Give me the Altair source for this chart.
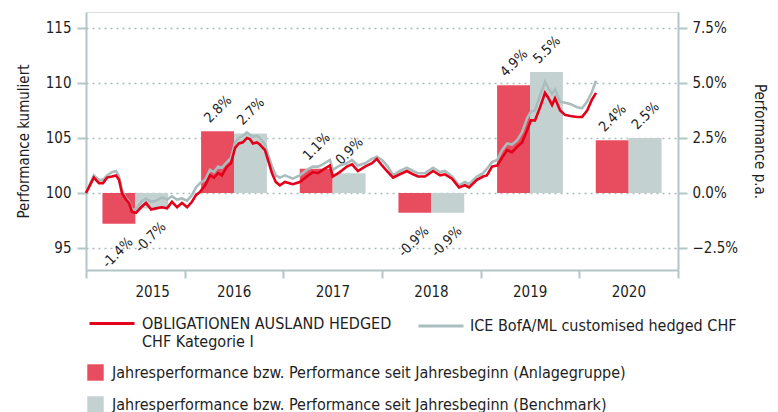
import altair as alt
import pandas as pd

# ---------------- data ----------------
years = [2015, 2016, 2017, 2018, 2019, 2020]
fund_bar = [-1.4, 2.8, 1.1, -0.9, 4.9, 2.4]      # % p.a. (Anlagegruppe)
bench_bar = [-0.7, 2.7, 0.9, -0.9, 5.5, 2.5]     # % p.a. (Benchmark)

dates = [
    "2015-01-01", "2015-01-30", "2015-02-18", "2015-03-05", "2015-03-20", "2015-04-07",
    "2015-04-22", "2015-05-03", "2015-05-14", "2015-05-29", "2015-06-09", "2015-06-20",
    "2015-07-05", "2015-07-24", "2015-08-11", "2015-08-30", "2015-09-17", "2015-10-09",
    "2015-10-28", "2015-11-15", "2015-12-04", "2015-12-22",
    "2016-01-10", "2016-01-28", "2016-02-12", "2016-02-27", "2016-03-17", "2016-04-04",
    "2016-04-19", "2016-05-04", "2016-05-18", "2016-06-06", "2016-06-21", "2016-07-06",
    "2016-07-20", "2016-08-04", "2016-08-19", "2016-08-30", "2016-09-10", "2016-09-25",
    "2016-10-06", "2016-10-25", "2016-11-05", "2016-11-20", "2016-12-04", "2016-12-19",
    "2017-01-07", "2017-02-05", "2017-03-03", "2017-03-29", "2017-04-20", "2017-05-09",
    "2017-05-27", "2017-06-22", "2017-07-03", "2017-07-29", "2017-08-24", "2017-09-12",
    "2017-10-04", "2017-10-30", "2017-11-25", "2017-12-13",
    "2018-01-01", "2018-01-23", "2018-02-11", "2018-03-08", "2018-04-03", "2018-04-26",
    "2018-05-14", "2018-06-09", "2018-07-09", "2018-08-04", "2018-08-22", "2018-09-17",
    "2018-10-13", "2018-11-04", "2018-11-19", "2018-12-18",
    "2019-01-10", "2019-01-24", "2019-02-12", "2019-03-03", "2019-03-21", "2019-04-09",
    "2019-04-27", "2019-05-16", "2019-06-03", "2019-06-22", "2019-07-06", "2019-07-21",
    "2019-08-09", "2019-08-27", "2019-09-07", "2019-09-22", "2019-10-03", "2019-10-22",
    "2019-11-09", "2019-11-28", "2019-12-24",
    "2020-01-11", "2020-01-30", "2020-02-17", "2020-03-03",
]

fund_line = [
    100.0, 101.4, 100.9, 100.9, 101.4, 101.5, 101.6, 101.2, 100.0, 99.4, 99.1, 98.3,
    98.2, 98.7, 99.1, 98.5, 98.6, 98.7, 98.6, 99.2, 98.7, 99.1,
    98.7, 99.2, 99.8, 100.1, 100.7, 101.6, 101.4, 101.8, 101.6, 102.4, 102.7, 104.1,
    104.5, 104.6, 105.0, 104.9, 104.5, 104.6, 104.4, 103.9, 103.0, 101.8, 101.0, 100.7,
    101.0, 100.8, 101.0, 101.5, 101.9, 101.8, 102.1, 102.5, 101.5, 101.9, 102.4, 102.6,
    102.0, 102.4, 102.7, 103.1,
    102.5, 101.9, 101.4, 101.7, 102.0, 101.7, 101.5, 101.5, 102.0, 101.6, 101.7, 101.3,
    100.5, 100.7, 100.5, 101.2,
    101.5, 101.6, 102.4, 102.5, 103.2, 103.9, 103.7, 104.2, 104.6, 105.7, 106.6, 106.6,
    107.8, 109.1, 108.7, 108.0, 108.6, 107.5, 107.1, 107.0, 106.9,
    106.9, 107.5, 108.5, 109.1,
]

bench_line = [
    100.0, 101.6, 101.2, 101.2, 101.6, 101.9, 102.0, 101.5, 100.3, 99.5, 99.2, 98.5,
    98.5, 99.2, 99.5, 99.2, 99.3, 99.6, 99.4, 99.7, 99.4, 99.5,
    99.3, 99.8, 100.5, 100.9, 101.2, 102.1, 101.9, 102.4, 102.3, 102.8, 103.2, 104.6,
    105.0, 105.2, 105.5, 105.3, 105.1, 105.2, 105.0, 104.4, 103.5, 102.4, 101.6, 101.4,
    101.6, 101.3, 101.6, 102.1, 102.4, 102.4, 102.6, 103.0, 102.1, 102.5, 102.7, 103.0,
    102.5, 102.7, 103.1, 103.3,
    103.0, 102.4, 101.6, 102.0, 102.3, 102.0, 101.8, 101.8, 102.3, 101.9, 102.0, 101.5,
    100.7, 101.0, 100.8, 101.5,
    101.8, 102.2, 102.8, 103.0, 103.9, 104.5, 104.4, 104.8, 105.5, 106.8, 107.4, 107.5,
    108.9, 110.1, 109.6, 109.0, 109.4, 108.3, 108.2, 108.1, 107.8,
    107.7, 108.3, 109.2, 110.2,
]

FUND = "OBLIGATIONEN AUSLAND HEDGED CHF Kategorie I"
BENCH = "ICE BofA/ML customised hedged CHF"
BAR_FUND = "Jahresperformance bzw. Performance seit Jahresbeginn (Anlagegruppe)"
BAR_BENCH = "Jahresperformance bzw. Performance seit Jahresbeginn (Benchmark)"

RED_LINE = "#e2001a"
GRAY_LINE = "#aabdbd"
RED_BAR = "#e84c5f"
GRAY_BAR = "#c4d1d1"
AXIS = "#b3c6c6"
TXT = "#1e1e1e"
FONT = "DejaVu Sans Condensed, Liberation Sans, sans-serif"


def frac_year(s):
    d = pd.Timestamp(s)
    a = pd.Timestamp(d.year, 1, 1)
    b = pd.Timestamp(d.year + 1, 1, 1)
    return d.year + (d - a) / (b - a)


t = [frac_year(d) for d in dates]
lines = pd.DataFrame(
    {"t": t * 2,
     "value": fund_line + bench_line,
     "series": [FUND] * len(t) + [BENCH] * len(t)}
)

rows = []
for y, f, b in zip(years, fund_bar, bench_bar):
    rows.append({"series": BAR_FUND, "x": y + 1 / 6, "x2": y + 1 / 2, "xc": y + 1 / 3,
                 "v": f / 100, "label": f"{f:.1f}%"})
    rows.append({"series": BAR_BENCH, "x": y + 1 / 2, "x2": y + 5 / 6, "xc": y + 2 / 3,
                 "v": b / 100, "label": f"{b:.1f}%"})
bars = pd.DataFrame(rows)

# ---------------- scales / axes ----------------
xscale = alt.Scale(domain=[2015, 2021], nice=False, zero=False)
xaxis = alt.Axis(
    values=[2015, 2016, 2017, 2018, 2019, 2020, 2021], format="d",
    labelExpr="datum.value < 2021 ? datum.label : ''",
    labelOffset=49, labelFontSize=15, labelColor=TXT, labelFont=FONT,
    labelPadding=6, tickSize=8, tickWidth=2, tickColor=AXIS,
    domainColor=AXIS, domainWidth=2, grid=False, title=None,
)

left_scale = alt.Scale(domain=[93, 116.45], nice=False, zero=False)
left_axis = alt.Axis(
    orient="left", values=[95, 100, 105, 110, 115], format="d",
    title="Performance kumuliert", titleFontSize=15, titleFont=FONT,
    titleFontWeight="normal", titleColor=TXT, titlePadding=14,
    labelFontSize=15, labelFont=FONT, labelColor=TXT, labelPadding=6,
    tickSize=9, tickWidth=2, tickColor=AXIS, domainColor=AXIS, domainWidth=2,
    grid=True, gridColor="#a9baba", gridDash=[2, 4], gridWidth=1.5,
)

right_scale = alt.Scale(domain=[-0.035, 0.08225], nice=False, zero=False)
right_axis = alt.Axis(
    orient="right", values=[-0.025, 0, 0.025, 0.05, 0.075], format=".1%",
    title="Performance p.a.", titleFontSize=15, titleFont=FONT,
    titleFontWeight="normal", titleColor=TXT, titlePadding=14,
    labelFontSize=15, labelFont=FONT, labelColor=TXT, labelPadding=5,
    tickSize=9, tickWidth=2, tickColor=AXIS, domainColor=AXIS, domainWidth=2,
    grid=False,
)

fund_legend = alt.Legend(
    orient="none", legendX=2, legendY=293, title=None,
    symbolType="M-1,-0.25H1", symbolSize=2025, symbolStrokeWidth=3,
    labelFontSize=16, labelFont=FONT, labelColor=TXT, labelLimit=500,
    labelOffset=6, labelBaseline="alphabetic",
    labelExpr=("datum.label == '" + FUND + "' ? "
               "['OBLIGATIONEN AUSLAND HEDGED', 'CHF Kategorie I'] : datum.label"),
)
bench_legend = alt.Legend(
    orient="none", legendX=331, legendY=290, title=None,
    symbolType="stroke", symbolSize=2025, symbolStrokeWidth=3,
    labelFontSize=16, labelFont=FONT, labelColor=TXT, labelLimit=500,
    labelOffset=5, labelBaseline="middle",
)
bar_legend = alt.Legend(
    orient="none", legendX=1, legendY=352, columns=1, title=None,
    symbolType="square", symbolSize=270, symbolStrokeWidth=0,
    labelFontSize=16, labelFont=FONT, labelColor=TXT, labelLimit=600,
    labelOffset=8, rowPadding=15,
)

stroke_scale = alt.Scale(domain=[FUND], range=[RED_LINE])
color_scale = alt.Scale(domain=[BENCH], range=[GRAY_LINE])
fill_scale = alt.Scale(domain=[BAR_FUND, BAR_BENCH], range=[RED_BAR, GRAY_BAR])

# ---------------- layers ----------------
bar_base = alt.Chart(bars)
bar_layer = bar_base.mark_bar().encode(
    x=alt.X("x:Q", scale=xscale, axis=xaxis),
    x2="x2:Q",
    y=alt.Y("v:Q", scale=right_scale, axis=right_axis),
    y2=alt.datum(0),
    fill=alt.Fill("series:N", scale=fill_scale, legend=bar_legend),
)
pos_text = bar_base.transform_filter("datum.v >= 0").mark_text(
    angle=315, align="left", baseline="middle", dy=-15, dx=0,
    fontSize=14, font=FONT, color=TXT,
).encode(x=alt.X("xc:Q", scale=xscale), y=alt.Y("v:Q", scale=right_scale), text="label:N")
neg_text = bar_base.transform_filter("datum.v < 0").mark_text(
    angle=315, align="right", baseline="middle", dy=20, dx=-3,
    fontSize=14, font=FONT, color=TXT,
).encode(x=alt.X("xc:Q", scale=xscale), y=alt.Y("v:Q", scale=right_scale), text="label:N")

bars_all = alt.layer(bar_layer, pos_text, neg_text)

line_base = alt.Chart(lines)
gray_line = line_base.transform_filter(alt.datum.series == BENCH).mark_line(
    strokeWidth=2.6
).encode(
    x=alt.X("t:Q", scale=xscale, axis=xaxis),
    y=alt.Y("value:Q", scale=left_scale, axis=left_axis),
    color=alt.Color("series:N", scale=color_scale, legend=bench_legend),
)
red_line = line_base.transform_filter(alt.datum.series == FUND).mark_line(
    strokeWidth=2.6
).encode(
    x=alt.X("t:Q", scale=xscale),
    y=alt.Y("value:Q", scale=left_scale),
    stroke=alt.Stroke("series:N", scale=stroke_scale, legend=fund_legend),
)
lines_all = alt.layer(gray_line, red_line)

chart = (
    alt.layer(bars_all, lines_all)
    .resolve_scale(y="independent")
    .properties(
        width=592, height=258,
        autosize=alt.AutoSizeParams(type="none"),
        padding={"left": 86, "top": 12, "right": 100, "bottom": 142},
    )
    .configure_view(stroke=None)
    .configure(background="white")
)

chart.save("out.html", embed_options={"renderer": "svg", "actions": False})
